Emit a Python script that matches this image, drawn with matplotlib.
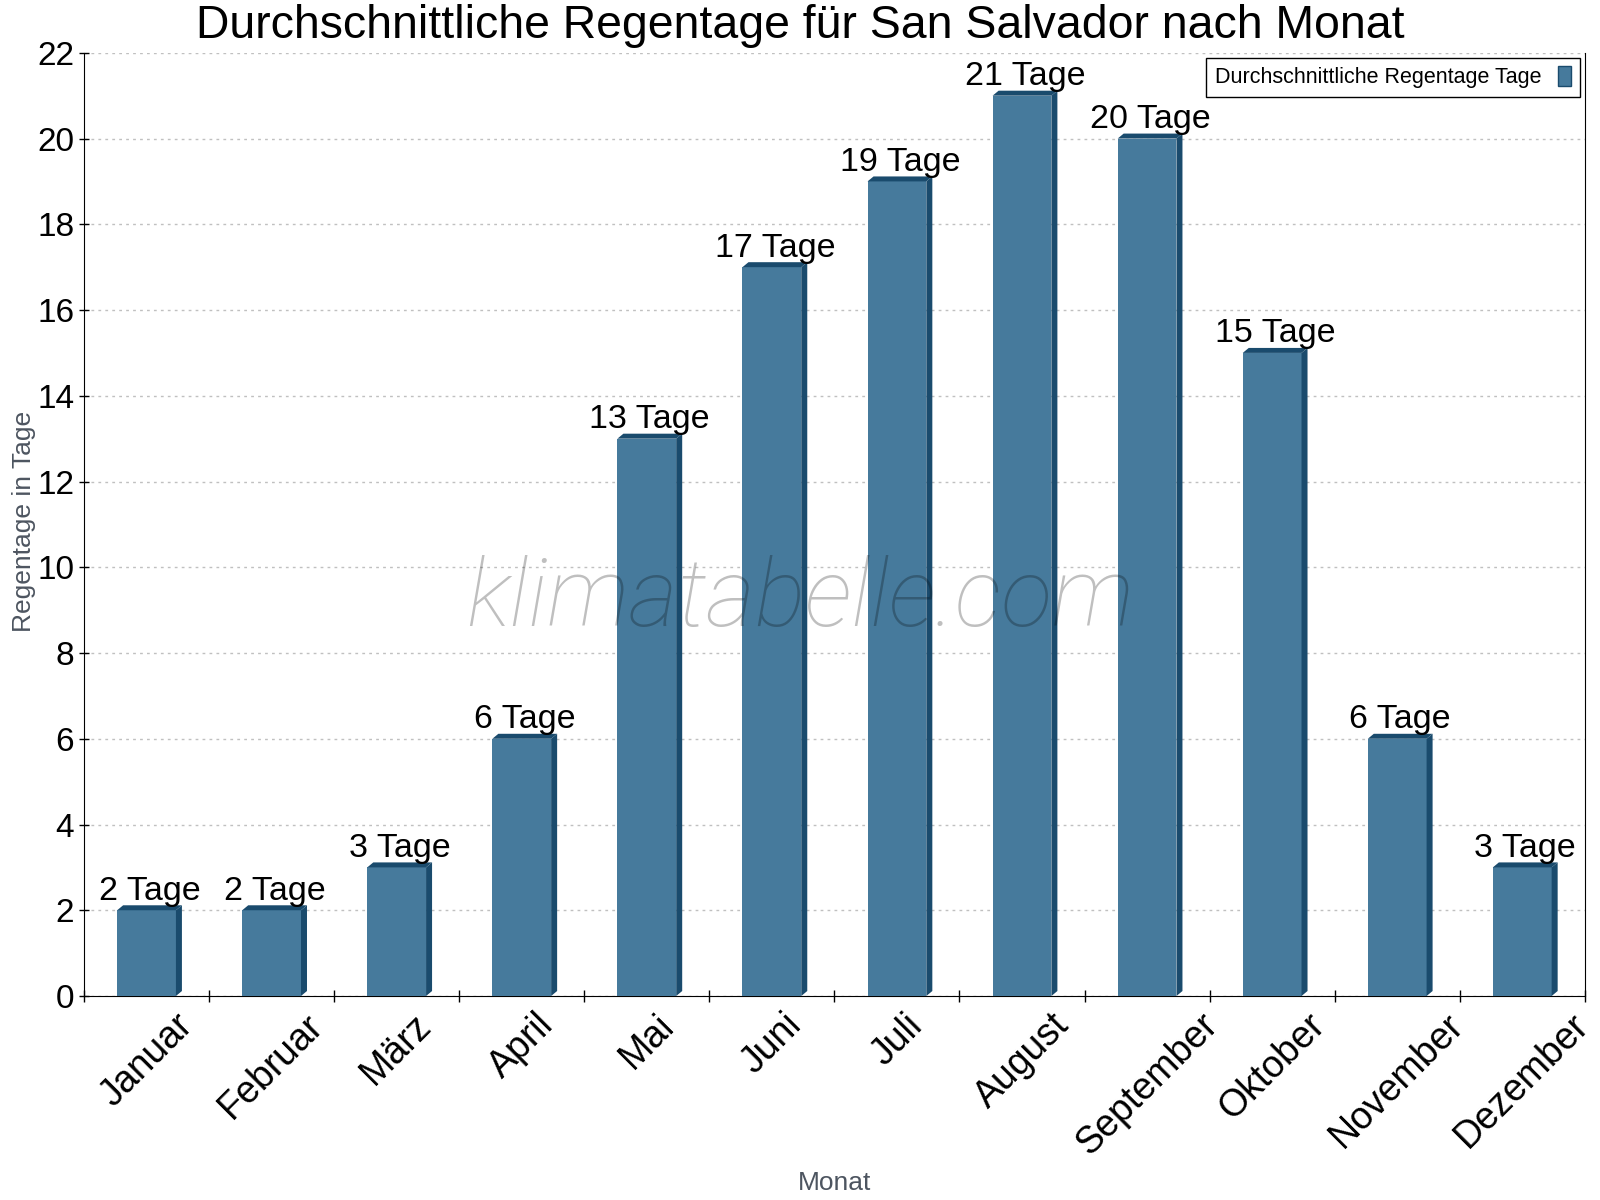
import matplotlib
matplotlib.use('Agg')
import matplotlib.pyplot as plt
from matplotlib.patches import Polygon, Patch

months = ['Januar', 'Februar', 'März', 'April', 'Mai', 'Juni',
          'Juli', 'August', 'September', 'Oktober', 'November', 'Dezember']
rain_days = [2, 2, 3, 6, 13, 17, 19, 21, 20, 15, 6, 3]

front = '#467a9c'
dark = '#1a4b6d'

plt.rcParams['font.family'] = ['Liberation Sans', 'DejaVu Sans']

fig = plt.figure(figsize=(16, 12), dpi=100)
ax = fig.add_axes([0.0525, 0.17, 0.938, 0.786])

bw = 0.47
dx = 0.048   # depth of 3d side in x (data units)
dy = 0.116   # depth of 3d side in y (data units)
xs = list(range(len(months)))

ax.bar(xs, rain_days, width=bw, color=front, zorder=3)
for x, v in zip(xs, rain_days):
    x0 = x - bw / 2
    x1 = x + bw / 2
    side = Polygon([(x1, 0), (x1 + dx, dy), (x1 + dx, v + dy), (x1, v)],
                   closed=True, facecolor=dark, edgecolor='none', zorder=3)
    top = Polygon([(x0, v), (x0 + dx, v + dy), (x1 + dx, v + dy), (x1, v)],
                  closed=True, facecolor=dark, edgecolor='none', zorder=3)
    ax.add_patch(side)
    ax.add_patch(top)
    ax.annotate(f'{v} Tage', (x + dx / 2, v + dy), xytext=(0, -1),
                textcoords='offset points', ha='center', va='bottom',
                fontsize=24.5, zorder=5)

ax.set_xlim(-0.5, 11.5)
ax.set_ylim(0, 22)
ax.set_yticks(range(0, 23, 2))
ax.tick_params(axis='y', labelsize=24, direction='inout', length=7, width=1)

# ticks at the category boundaries, labels at the centres
ax.set_xticks([i - 0.5 for i in range(13)])
ax.set_xticklabels([])
ax.tick_params(axis='x', which='major', direction='inout', length=8, width=1)
ax.set_xticks(xs, minor=True)
ax.set_xticklabels(months, minor=True, rotation=45, fontsize=27)
ax.tick_params(axis='x', which='minor', length=0, pad=8)

ax.spines['top'].set_visible(False)
ax.grid(axis='y', color='#c0c0c0', linestyle=(0, (2, 3)), linewidth=1, zorder=0)
ax.set_axisbelow(True)

ax.set_ylabel('Regentage in Tage', fontsize=19, color='#4d5560')
ax.yaxis.set_label_coords(-0.032, 0.503)
ax.set_xlabel('Monat', fontsize=19, color='#4d5560')
ax.xaxis.set_label_coords(0.5, -0.186)

fig.text(0.5, 0.997, 'Durchschnittliche Regentage für San Salvador nach Monat',
         ha='center', va='top', fontsize=33.4)

ax.text(0.477, 0.42, 'klimatabelle.com', transform=ax.transAxes,
        ha='center', va='center', fontsize=68, style='italic',
        family=['Roboto', 'DejaVu Sans'], weight='light',
        color='black', alpha=0.25, zorder=10)

leg = ax.legend(handles=[Patch(facecolor=front, edgecolor=dark,
                               label='Durchschnittliche Regentage Tage')],
                loc='upper right', bbox_to_anchor=(0.9967, 0.9947),
                borderaxespad=0, fontsize=15.5, markerfirst=False,
                fancybox=False, edgecolor='black', framealpha=1,
                handlelength=0.6, handleheight=1.0, borderpad=0.4)
leg.get_frame().set_linewidth(1)

fig.savefig('out.png', dpi=100)
